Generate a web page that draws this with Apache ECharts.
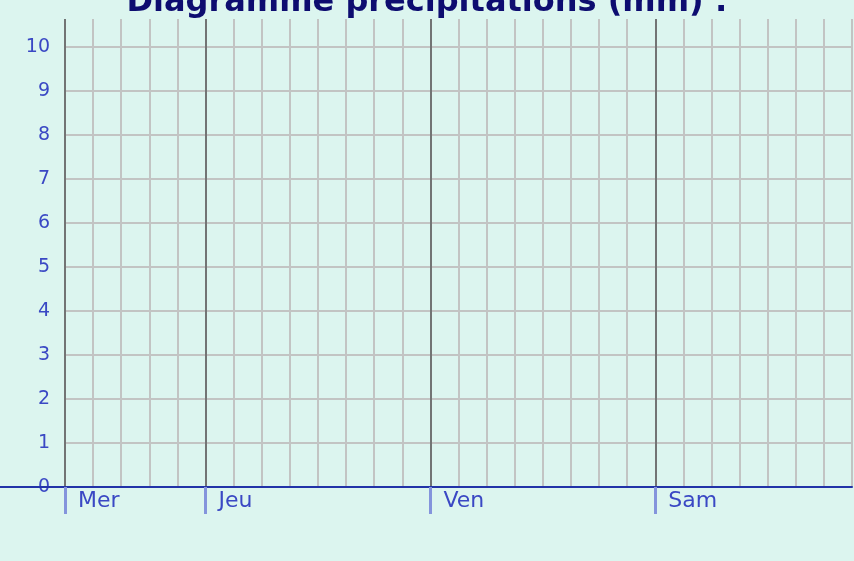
<!DOCTYPE html>
<html>
<head>
<meta charset="utf-8">
<script src="https://cdn.jsdelivr.net/npm/echarts@6/dist/echarts.min.js"></script>
<style>
    * { margin: 0; padding: 0; }
    html, body { background: #dcf5ef; }
</style>
</head>
<body>
<div id="main" style="width:854px;height:561px;"></div>
<script>
// jours affichés et leur début (en tranches de 3 h depuis le bord gauche)
var days = ['Mer', 'Jeu', 'Ven', 'Sam'];
var dayStarts = [0, 5, 13, 21];
var slotCount = 28;
// précipitations par tranche de 3 h (mm) : rien n'est tombé
var precip = [0, 0, 0, 0, 0, 0, 0, 0, 0, 0, 0, 0, 0, 0, 0, 0, 0, 0, 0, 0, 0, 0, 0, 0, 0, 0, 0, 0];
var yTicks = [0, 1, 2, 3, 4, 5, 6, 7, 8, 9, 10];

var chart = echarts.init(document.getElementById('main'));

var barData = [];
for (var i = 0; i < precip.length; i++) {
    barData.push([i + 0.5, precip[i]]);
}

var gridLine = { show: true, lineStyle: { color: '#c2c4c3', width: 2 } };

chart.setOption({
    animation: false,
    backgroundColor: '#dcf5ef',
    title: {
        text: 'Diagramme précipitations (mm) :',
        left: 'center',
        top: -18,
        textStyle: { fontFamily: 'DejaVu Sans', fontWeight: 'bold', fontSize: 32, color: '#0d0d70' }
    },
    grid: [
        { left: 65, right: 2, top: 19, bottom: 74 },
        { left: 65, right: 2, top: 46.7, bottom: 74 },
        { left: 0, right: 2, top: 19, bottom: 74 }
    ],
    xAxis: [
        {
            // lignes verticales toutes les 3 h
            gridIndex: 0, type: 'value', position: 'bottom', min: 0, max: slotCount, interval: 1,
            axisLine: { show: false }, axisTick: { show: false }, axisLabel: { show: false },
            splitLine: gridLine
        },
        { gridIndex: 1, type: 'value', min: 0, max: slotCount, show: false },
        {
            gridIndex: 2, type: 'value', min: 0, max: 1, z: 10,
            axisLine: { show: true, lineStyle: { color: '#2233a8', width: 2 } },
            axisTick: { show: false }, axisLabel: { show: false }, splitLine: { show: false }
        },
        {
            // noms des jours
            gridIndex: 0, type: 'value', position: 'bottom', offset: 0, min: 0, max: slotCount, z: 11,
            axisLine: { show: false }, splitLine: { show: false },
            axisTick: { show: true, customValues: dayStarts, length: 27, lineStyle: { color: '#8494dc', width: 3 } },
            axisLabel: {
                customValues: dayStarts,
                formatter: function (v) { return days[dayStarts.indexOf(v)]; },
                align: 'left', padding: [0, 0, 0, 13], margin: 3,
                fontFamily: 'DejaVu Sans', fontSize: 22, color: '#3a48c4'
            }
        }
    ],
    yAxis: [
        { gridIndex: 0, type: 'value', min: 0, max: 1, show: false },
        {
            gridIndex: 1, type: 'value', min: 0, max: 10, interval: 1,
            axisLine: { show: false }, axisTick: { show: false },
            splitLine: gridLine,
            axisLabel: {
                margin: 15, fontFamily: 'DejaVu Sans', fontSize: 19, color: '#3a48c4',
                formatter: function (v) { return yTicks.indexOf(v) >= 0 ? String(v) : ''; }
            }
        },
        { gridIndex: 2, type: 'value', min: 0, max: 1, show: false }
    ],
    series: [
        {
            name: 'jours', type: 'line', xAxisIndex: 0, yAxisIndex: 0, data: [],
            markLine: {
                silent: true, symbol: 'none', label: { show: false },
                lineStyle: { type: 'solid', color: '#727474', width: 2 },
                data: dayStarts.map(function (d) { return { xAxis: d }; })
            }
        },
        {
            name: 'précipitations', type: 'bar', xAxisIndex: 1, yAxisIndex: 1,
            barWidth: 20, itemStyle: { color: '#3a6fd8' },
            data: barData
        }
    ]
});
</script>
</body>
</html>
